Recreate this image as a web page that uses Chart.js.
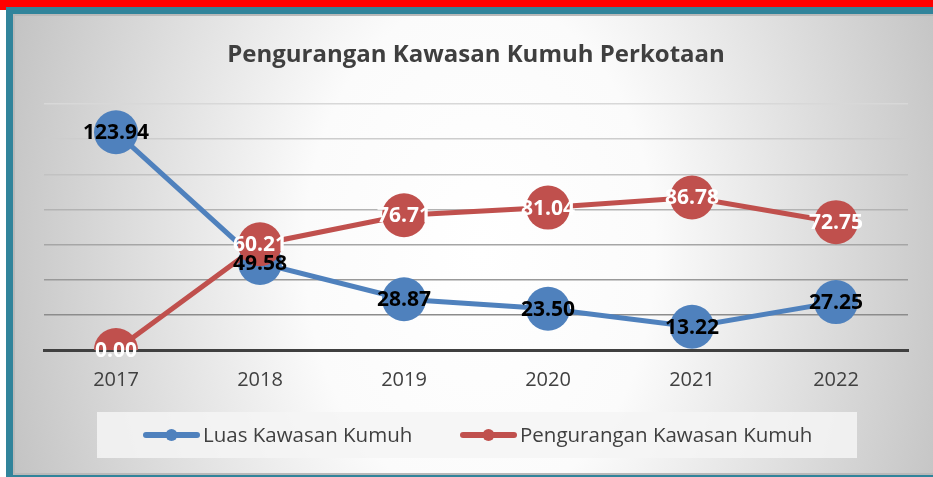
<!DOCTYPE html>
<html>
<head>
<meta charset="utf-8">
<script src="https://cdn.jsdelivr.net/npm/chart.js@4.4.1/dist/chart.umd.min.js"></script>
<style>
  html, body { margin: 0; padding: 0; background: #ffffff; }
  #c { display: block; }
</style>
</head>
<body>
<canvas id="c" width="933" height="477"></canvas>
<script>
const years = ['2017', '2018', '2019', '2020', '2021', '2022'];
const luasKawasan = [123.94, 49.58, 28.87, 23.50, 13.22, 27.25];
const pengurangan = [0.00, 60.21, 76.71, 81.04, 86.78, 72.75];
const seriesNames = ['Luas Kawasan Kumuh', 'Pengurangan Kawasan Kumuh'];
const chartTitle = 'Pengurangan Kawasan Kumuh Perkotaan';

const BLUE = '#4F81BD';
const RED = '#C0504D';
const FONT = "'Open Sans', 'Noto Sans', sans-serif";

const gridColors = {20: '#8c8c8c', 40: '#999999', 60: '#a6a6a6', 80: '#b3b3b3', 100: '#c2c2c2', 120: '#cdcdcd', 140: '#d8d8d8'};

const framePlugin = {
  id: 'frame',
  beforeDraw(chart) {
    const ctx = chart.ctx;
    const W = chart.width, H = chart.height;
    ctx.save();
    ctx.fillStyle = '#ffffff';
    ctx.fillRect(0, 0, W, H);
    const px = 13, py = 14, pw = W - 13, ph = H - 16;
    ctx.save();
    ctx.beginPath();
    ctx.rect(px, py, pw, ph);
    ctx.clip();
    ctx.translate(480, 250);
    ctx.scale(1, 1.45);
    const g = ctx.createRadialGradient(0, 0, 0, 0, 0, 500);
    g.addColorStop(0, '#ffffff');
    g.addColorStop(0.35, '#fbfbfb');
    g.addColorStop(1, '#c2c2c2');
    ctx.fillStyle = g;
    ctx.fillRect(-600, -400, 1200, 800);
    ctx.restore();
    ctx.strokeStyle = '#b9b9b9';
    ctx.lineWidth = 2;
    ctx.strokeRect(px + 1, py + 1, pw, ph - 2);
    ctx.fillStyle = '#ff0000';
    ctx.fillRect(0, 0, W, 7);
    ctx.fillRect(0, 0, 6, 10);
    ctx.fillStyle = '#31849b';
    ctx.fillRect(6, 7, W - 6, 7);
    ctx.fillRect(6, 7, 7, H - 7);
    ctx.fillRect(6, H - 2, W - 6, 2);
    ctx.restore();
  }
};

const labelPlugin = {
  id: 'valueLabels',
  afterDatasetsDraw(chart) {
    const ctx = chart.ctx;
    ctx.save();
    ctx.font = "bold 21px " + FONT;
    ctx.textAlign = 'center';
    ctx.textBaseline = 'middle';
    chart.data.datasets.forEach((ds, i) => {
      const meta = chart.getDatasetMeta(i);
      ctx.fillStyle = ds.labelColor;
      meta.data.forEach((pt, j) => {
        ctx.fillText(ds.data[j].toFixed(2), pt.x, pt.y + 1);
      });
    });
    ctx.restore();
  }
};

const legendPlugin = {
  id: 'customLegend',
  afterDraw(chart) {
    const ctx = chart.ctx;
    ctx.save();
    ctx.fillStyle = 'rgba(244,244,244,0.85)';
    ctx.fillRect(97, 412, 760, 46);
    const items = [
      {x: 143, ds: chart.data.datasets[0]},
      {x: 460, ds: chart.data.datasets[1]}
    ];
    const cy = 435;
    ctx.font = "20.5px " + FONT;
    ctx.textBaseline = 'middle';
    ctx.textAlign = 'left';
    items.forEach(it => {
      ctx.strokeStyle = it.ds.borderColor;
      ctx.lineWidth = 6;
      ctx.lineCap = 'round';
      ctx.beginPath();
      ctx.moveTo(it.x + 3, cy);
      ctx.lineTo(it.x + 54, cy);
      ctx.stroke();
      ctx.fillStyle = it.ds.borderColor;
      ctx.beginPath();
      ctx.arc(it.x + 28.5, cy, 6, 0, Math.PI * 2);
      ctx.fill();
      ctx.fillStyle = '#404040';
      ctx.fillText(it.ds.label, it.x + 60, cy + 1);
    });
    ctx.restore();
  }
};

new Chart(document.getElementById('c'), {
  type: 'line',
  data: {
    labels: years,
    datasets: [
      {
        label: seriesNames[0],
        data: luasKawasan,
        borderColor: BLUE,
        backgroundColor: BLUE,
        pointBackgroundColor: BLUE,
        pointBorderWidth: 0,
        pointRadius: 22,
        pointHoverRadius: 22,
        borderWidth: 5,
        labelColor: '#000000',
        order: 1
      },
      {
        label: seriesNames[1],
        data: pengurangan,
        borderColor: RED,
        backgroundColor: RED,
        pointBackgroundColor: RED,
        pointBorderWidth: 0,
        pointRadius: 22,
        pointHoverRadius: 22,
        borderWidth: 5,
        labelColor: '#ffffff',
        order: 0
      }
    ]
  },
  options: {
    responsive: false,
    animation: false,
    events: [],
    layout: { padding: { left: 44, right: 25, top: 28, bottom: 0 } },
    plugins: {
      legend: { display: false },
      tooltip: { enabled: false },
      title: {
        display: true,
        text: chartTitle,
        color: '#3f3f3f',
        font: { family: FONT, size: 24, weight: 'bold', lineHeight: 1.2 },
        padding: { top: 13, bottom: 34.2 }
      }
    },
    scales: {
      x: {
        offset: true,
        grid: { display: false, drawTicks: false },
        border: { display: true, color: '#404040', width: 3 },
        ticks: { color: '#404040', font: { family: FONT, size: 20 }, padding: 18 },
        afterFit(s) { s.height = 127; }
      },
      y: {
        min: 0,
        max: 140,
        ticks: { display: false, stepSize: 20 },
        border: { display: false },
        grid: {
          drawTicks: false,
          lineWidth: 1.5,
          color: (c) => c.tick && gridColors[c.tick.value] ? gridColors[c.tick.value] : 'rgba(0,0,0,0)'
        },
        afterFit(s) { s.width = 0; }
      }
    }
  },
  plugins: [framePlugin, labelPlugin, legendPlugin]
});
</script>
</body>
</html>
